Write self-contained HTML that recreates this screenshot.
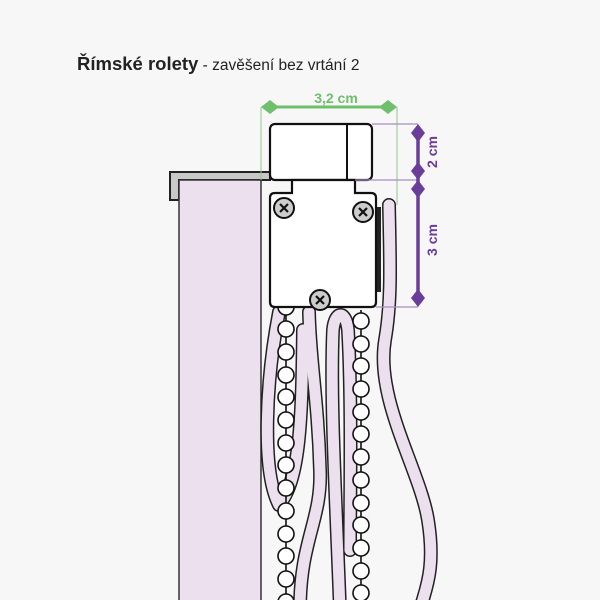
<!DOCTYPE html>
<html><head><meta charset="utf-8"><style>
html,body{margin:0;padding:0;background:#f7f7f7;}
svg{display:block;}
</style></head><body>
<svg width="600" height="600" viewBox="0 0 600 600" xmlns="http://www.w3.org/2000/svg">
<rect width="600" height="600" fill="#f7f7f7"/>
<text x="77" y="70" font-family="Liberation Sans, sans-serif" font-size="18.5" fill="#222"><tspan font-weight="bold">Římské rolety</tspan><tspan font-size="15.5"> - zavěšení bez vrtání 2</tspan></text>

<!-- bracket -->
<path d="M170,172 H270 V180 H179 V200 H170 Z" fill="#c8c8c8" stroke="#222" stroke-width="2"/>
<!-- blind -->
<rect x="179" y="180" width="82" height="430" fill="#ecdfee" stroke="#333" stroke-width="1.5"/>

<!-- cords -->
<g fill="none" stroke-linecap="round" stroke-linejoin="round">
  <g stroke="#222" stroke-width="14">
    <path d="M279,312 C266,380 261,470 279,505 C300,480 302,420 303,330"/>
    <path d="M309,312 C310,360 318,400 320,470 C322,520 300,540 300,610"/>
    <path d="M340,610 C336,500 330,400 333,330 C335,310 346,310 348,330 C352,400 350,500 350,550"/>
    <path d="M389,205 C390,260 392,300 385,340 C375,400 420,470 428,520 C436,570 425,590 420,610"/>
  </g>
  <g stroke="#ecdfee" stroke-width="11">
    <path d="M279,312 C266,380 261,470 279,505 C300,480 302,420 303,330"/>
    <path d="M309,312 C310,360 318,400 320,470 C322,520 300,540 300,610"/>
    <path d="M340,610 C336,500 330,400 333,330 C335,310 346,310 348,330 C352,400 350,500 350,550"/>
    <path d="M389,205 C390,260 392,300 385,340 C375,400 420,470 428,520 C436,570 425,590 420,610"/>
  </g>
</g>
<rect x="377" y="207" width="4" height="85" fill="#222"/>

<!-- chains -->
<g stroke="#111" stroke-width="1.6">
  <line x1="286" y1="300" x2="286" y2="610"/>
  <line x1="361" y1="310" x2="361" y2="610"/>
</g>
<g fill="#fff" stroke="#111" stroke-width="1.6">
  <circle cx="286" cy="307" r="8"/><circle cx="286" cy="329" r="8"/><circle cx="286" cy="352" r="8"/><circle cx="286" cy="375" r="8"/><circle cx="286" cy="397" r="8"/><circle cx="286" cy="420" r="8"/><circle cx="286" cy="443" r="8"/><circle cx="286" cy="465" r="8"/><circle cx="286" cy="488" r="8"/><circle cx="286" cy="511" r="8"/><circle cx="286" cy="534" r="8"/><circle cx="286" cy="556" r="8"/><circle cx="286" cy="579" r="8"/><circle cx="286" cy="602" r="8"/>
  <circle cx="361" cy="321" r="8"/><circle cx="361" cy="344" r="8"/><circle cx="361" cy="366" r="8"/><circle cx="361" cy="389" r="8"/><circle cx="361" cy="412" r="8"/><circle cx="361" cy="434" r="8"/><circle cx="361" cy="457" r="8"/><circle cx="361" cy="480" r="8"/><circle cx="361" cy="503" r="8"/><circle cx="361" cy="525" r="8"/><circle cx="361" cy="548" r="8"/><circle cx="361" cy="571" r="8"/><circle cx="361" cy="593" r="8"/>
</g>

<!-- device -->
<rect x="270" y="124" width="102" height="56" rx="5" fill="#fff" stroke="#111" stroke-width="2.2"/>
<line x1="347" y1="124" x2="347" y2="180" stroke="#111" stroke-width="2"/>
<path d="M292,180 V193 H275 Q270,193 270,198 V302 Q270,307 275,307 H371 Q376,307 376,302 V198 Q376,193 371,193 H355 V180 Z" fill="#fff" stroke="#111" stroke-width="2.2"/>
<g stroke="#111" stroke-width="2">
  <circle cx="284" cy="208" r="10" fill="#ccc"/>
  <circle cx="363" cy="212" r="10" fill="#ccc"/>
  <circle cx="320" cy="300" r="10" fill="#ccc"/>
  <path d="M280,204 l8,8 M288,204 l-8,8 M359,208 l8,8 M367,208 l-8,8 M316,296 l8,8 M324,296 l-8,8" stroke-width="2.2"/>
</g>

<!-- green dimension -->
<g stroke="#8cc98a" stroke-width="1">
  <line x1="261" y1="107" x2="261" y2="180"/>
  <line x1="397" y1="107" x2="397" y2="205"/>
</g>
<line x1="268" y1="107" x2="390" y2="107" stroke="#6fbf6c" stroke-width="3"/>
<path d="M261,107 L270,100 L279,107 L270,114 Z M397,107 L388,100 L379,107 L388,114 Z" fill="#6fbf6c"/>
<text x="336" y="103" text-anchor="middle" font-family="Liberation Sans, sans-serif" font-weight="bold" font-size="14" fill="#6fbf6c">3,2 cm</text>

<!-- purple dimension -->
<g stroke="#a98bc4" stroke-width="1.2">
  <line x1="372" y1="124" x2="418" y2="124"/>
  <line x1="355" y1="180" x2="418" y2="180"/>
  <line x1="376" y1="307" x2="418" y2="307"/>
</g>
<line x1="418" y1="130" x2="418" y2="300" stroke="#6a3d9a" stroke-width="3.5"/>
<path d="M418,124 L425,133 L418,142 L411,133 Z M418,180 L425,171 L418,162 L411,171 Z M418,180 L425,189 L418,198 L411,189 Z M418,307 L425,298 L418,289 L411,298 Z" fill="#6a3d9a"/>
<text transform="translate(437,152) rotate(-90)" text-anchor="middle" font-family="Liberation Sans, sans-serif" font-weight="bold" font-size="14" fill="#6a3d9a">2 cm</text>
<text transform="translate(437,240) rotate(-90)" text-anchor="middle" font-family="Liberation Sans, sans-serif" font-weight="bold" font-size="14" fill="#6a3d9a">3 cm</text>
</svg>
</body></html>
